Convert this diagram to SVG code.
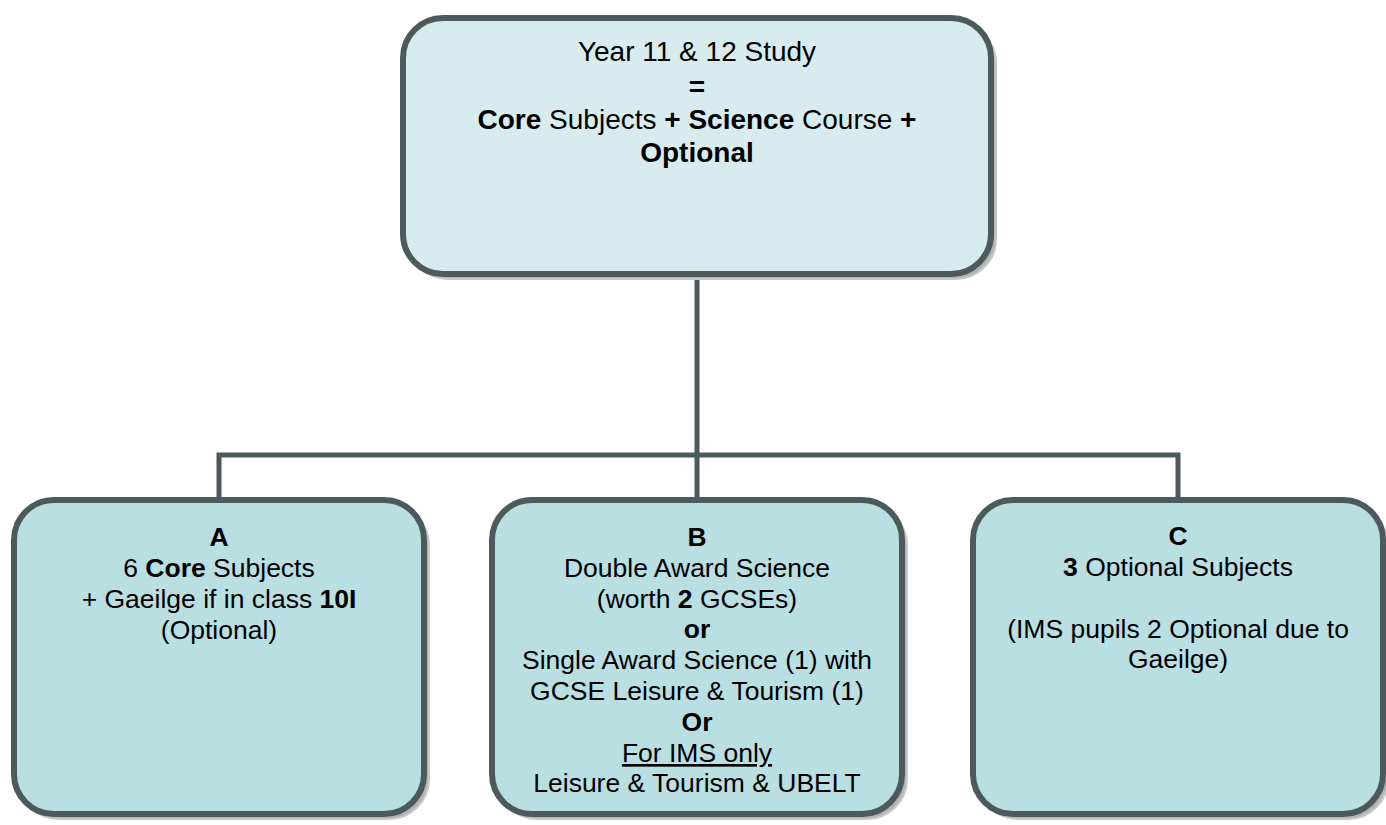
<svg xmlns="http://www.w3.org/2000/svg" width="1386" height="825" viewBox="0 0 1386 825">
<style>
.shadow{fill:#b3b3b3;stroke:#c8c8c8;stroke-width:2}
.box{stroke:#4d5a5c;stroke-width:6}
.top{fill:#d8ecef}
.bot{fill:#b9dfe3}
.conn{fill:none;stroke:#4d5a5c;stroke-width:5}
text{font-family:"Liberation Sans",Arial,sans-serif;fill:#000;text-anchor:middle}
.t28{font-size:28px}
.t26{font-size:26.5px}
.b{font-weight:bold}
</style>
<rect width="1386" height="825" fill="#fff"/>
<g id="connectors">
<path class="conn" d="M697 274 V455 M219 497 V455 H1178 V497 M697 455 V497"/>
</g>
<g id="node-top">
<rect class="shadow" x="408" y="23" width="588" height="256" rx="40"/>
<rect class="box top" x="403" y="18" width="588" height="256" rx="40"/>
<text class="t28" x="697" y="61">Year 11 &amp; 12 Study</text>
<text class="t28 b" x="697" y="96">=</text>
<text class="t28" x="697" y="129"><tspan class="b">Core</tspan> Subjects <tspan class="b">+ Science</tspan> Course <tspan class="b">+</tspan></text>
<text class="t28 b" x="697" y="162">Optional</text>
</g>
<g id="node-a">
<rect class="shadow" x="19" y="505" width="410" height="314" rx="40"/>
<rect class="box bot" x="14" y="500" width="410" height="314" rx="40"/>
<text class="t26 b" x="219" y="546">A</text>
<text class="t26" x="219" y="577">6 <tspan class="b">Core</tspan> Subjects</text>
<text class="t26" x="219" y="608">+ Gaeilge if in class <tspan class="b">10I</tspan></text>
<text class="t26" x="219" y="639">(Optional)</text>
</g>
<g id="node-b">
<rect class="shadow" x="497" y="505" width="410" height="314" rx="40"/>
<rect class="box bot" x="492" y="500" width="410" height="314" rx="40"/>
<text class="t26 b" x="697" y="546">B</text>
<text class="t26" x="697" y="577">Double Award Science</text>
<text class="t26" x="697" y="608">(worth <tspan class="b">2</tspan> GCSEs)</text>
<text class="t26 b" x="697" y="638">or</text>
<text class="t26" x="697" y="669">Single Award Science (1) with</text>
<text class="t26" x="697" y="700">GCSE Leisure &amp; Tourism (1)</text>
<text class="t26 b" x="697" y="731">Or</text>
<text class="t26" x="697" y="762" text-decoration="underline">For IMS only</text>
<text class="t26" x="697" y="792">Leisure &amp; Tourism &amp; UBELT</text>
</g>
<g id="node-c">
<rect class="shadow" x="978" y="505" width="410" height="314" rx="40"/>
<rect class="box bot" x="973" y="500" width="410" height="314" rx="40"/>
<text class="t26 b" x="1178" y="545">C</text>
<text class="t26" x="1178" y="576"><tspan class="b">3</tspan> Optional Subjects</text>
<text class="t26" x="1178" y="638">(IMS pupils 2 Optional due to</text>
<text class="t26" x="1178" y="668">Gaeilge)</text>
</g>
</svg>
